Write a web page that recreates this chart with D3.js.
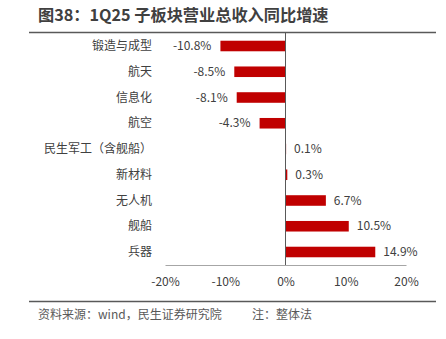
<!DOCTYPE html>
<html><head><meta charset="utf-8">
<script src="https://cdn.jsdelivr.net/npm/d3@7"></script>
<style>body{margin:0;background:#fff}svg{display:block}text{font-family:"Noto Sans CJK SC","Noto Sans",sans-serif}</style>
</head><body><svg id="c" width="446" height="339"></svg>
<script>
const categories = ["锻造与成型","航天","信息化","航空","民生军工（含舰船）","新材料","无人机","舰船","兵器"];
const values = [-10.8,-8.5,-8.1,-4.3,0.1,0.3,6.7,10.5,14.9];
const ticks = [-20,-10,0,10,20];
const title = "图38：1Q25 子板块营业总收入同比增速";
const source = "资料来源：wind，民生证券研究院";
const note = "注：整体法";

const svg = d3.select("#c");
const x = d3.scaleLinear().domain([-20,20]).range([165,406]);
const y = d3.scaleBand().domain(categories).range([33,265]).paddingInner(0.59).paddingOuter(0.3);

svg.append("text").attr("x",38).attr("y",21).attr("font-size",16.2).attr("font-weight","bold").attr("fill","#404040").text(title);
svg.append("line").attr("x1",29).attr("x2",436).attr("y1",32.5).attr("y2",32.5).attr("stroke","#595959").attr("stroke-width",1.5);

svg.selectAll("rect.bar").data(values).join("rect").attr("class","bar")
  .attr("x",d=>x(Math.min(0,d))).attr("width",d=>Math.abs(x(d)-x(0)))
  .attr("y",(d,i)=>y(categories[i])).attr("height",y.bandwidth()).attr("fill","#c00000");

svg.selectAll("text.val").data(values).join("text").attr("class","val")
  .attr("x",d=>d<0?x(d)-9:x(d)+8).attr("y",(d,i)=>y(categories[i])+y.bandwidth()/2)
  .attr("dy","0.35em").attr("text-anchor",d=>d<0?"end":"start").attr("font-size",12).attr("fill","#404040")
  .text(d=>d.toFixed(1)+"%");

svg.selectAll("text.cat").data(categories).join("text").attr("class","cat")
  .attr("x",152).attr("y",d=>y(d)+y.bandwidth()/2).attr("dy","0.35em").attr("text-anchor","end")
  .attr("font-size",12).attr("fill","#404040").text(d=>d);

// zero line
svg.append("line").attr("x1",x(0)).attr("x2",x(0)).attr("y1",33).attr("y2",265).attr("stroke","#595959").attr("stroke-width",1);
// bottom axis
const ax = svg.append("g").attr("transform","translate(0,265)")
  .call(d3.axisBottom(x).tickValues(ticks).tickSize(0).tickPadding(12).tickFormat(d=>d+"%"));
ax.select(".domain").attr("stroke","#a6a6a6").attr("stroke-width",1.2);
ax.selectAll("text").attr("font-size",12).attr("fill","#404040").attr("font-family","'Noto Sans CJK SC','Noto Sans',sans-serif");

svg.append("line").attr("x1",29).attr("x2",436).attr("y1",301.5).attr("y2",301.5).attr("stroke","#595959").attr("stroke-width",1.5);
svg.append("text").attr("x",38).attr("y",318.5).attr("font-size",12).attr("fill","#595959").text(source);
svg.append("text").attr("x",252).attr("y",318.5).attr("font-size",12).attr("fill","#595959").text(note);
</script></body></html>
